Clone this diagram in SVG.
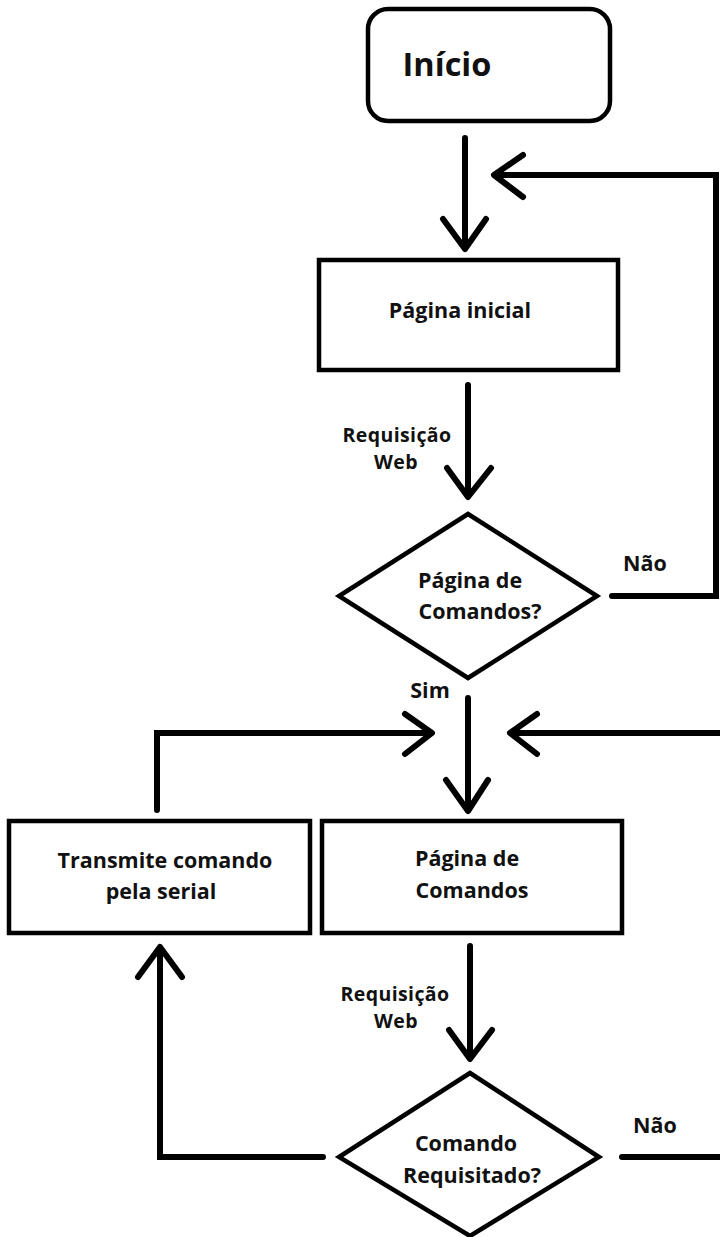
<svg xmlns="http://www.w3.org/2000/svg" width="720" height="1237" viewBox="0 0 720 1237">
<style>
.box{fill:#fff;stroke:#000;stroke-width:4.5}
.ln{fill:none;stroke:#000;stroke-width:6;stroke-linecap:round;stroke-linejoin:miter}
.ah{fill:none;stroke:#000;stroke-width:6;stroke-linecap:round;stroke-linejoin:round}
text{font-family:"Open Sans","Liberation Sans",sans-serif;font-weight:bold;fill:#111;text-anchor:middle}
.t{font-size:21.5px}
.l{font-size:21.5px}
.r{font-size:19.5px;letter-spacing:0.4px}
</style>
<rect width="720" height="1237" fill="#fff"/>
<g id="connectors">
  <line class="ln" x1="465" y1="138" x2="465" y2="248"/>
  <polyline class="ah" points="443,219 465,249 486,219"/>
  <polyline class="ln" points="612,596 716,596 716,175 497,175"/>
  <polyline class="ah" points="523,155 494,175 523,197"/>
  <line class="ln" x1="468" y1="385" x2="468" y2="496"/>
  <polyline class="ah" points="447,468 468,497 491,468"/>
  <line class="ln" x1="468" y1="698" x2="468" y2="810"/>
  <polyline class="ah" points="446,780 468,811 488,780"/>
  <polyline class="ln" points="157,810 157,733 430,733"/>
  <polyline class="ah" points="405,714 432,733 405,754"/>
  <line class="ln" x1="512" y1="733" x2="720" y2="733"/>
  <polyline class="ah" points="537,714 510,733 537,754"/>
  <line class="ln" x1="470" y1="946" x2="470" y2="1058"/>
  <polyline class="ah" points="449,1030 470,1059 492,1030"/>
  <polyline class="ln" points="323,1157 160,1157 160,948"/>
  <polyline class="ah" points="138,977 160,947 182,977"/>
  <line class="ln" x1="622" y1="1157" x2="720" y2="1157"/>
</g>
<g id="inicio">
  <rect class="box" x="368" y="9" width="242" height="112" rx="20" ry="20"/>
  <text x="447" y="76" style="font-size:32.5px">Início</text>
</g>
<g id="pagina-inicial">
  <rect class="box" x="319" y="260" width="299" height="110"/>
  <text class="t" x="460" y="318">Página inicial</text>
</g>
<g id="label-req1">
  <text class="r" x="397" y="442">Requisição</text>
  <text class="r" x="396" y="469">Web</text>
</g>
<g id="decisao-pagina">
  <polygon class="box" points="468,514 597,596 468,678 339,596"/>
  <text class="t" x="470" y="588">Página de</text>
  <text class="t" x="480" y="619">Comandos?</text>
</g>
<g id="label-nao1"><text class="l" x="645" y="571">Não</text></g>
<g id="label-sim"><text class="l" x="430" y="698">Sim</text></g>
<g id="transmite">
  <rect class="box" x="9" y="821" width="301" height="112"/>
  <text class="t" x="165" y="868">Transmite comando</text>
  <text class="t" x="161" y="899">pela serial</text>
</g>
<g id="pagina-comandos">
  <rect class="box" x="322" y="821" width="300" height="112"/>
  <text class="t" x="467" y="866">Página de</text>
  <text class="t" x="472" y="898">Comandos</text>
</g>
<g id="label-req2">
  <text class="r" x="395" y="1001">Requisição</text>
  <text class="r" x="396" y="1028">Web</text>
</g>
<g id="decisao-comando">
  <polygon class="box" points="470,1073 599,1157 470,1236 339,1157"/>
  <text class="t" x="466" y="1151">Comando</text>
  <text class="t" x="472" y="1183">Requisitado?</text>
</g>
<g id="label-nao2"><text class="l" x="655" y="1133">Não</text></g>
</svg>
